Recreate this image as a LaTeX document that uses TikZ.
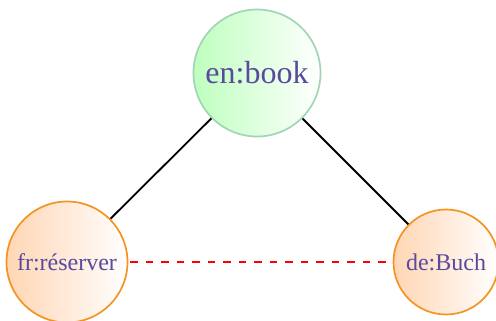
\documentclass[tikz,border=0pt]{standalone}
\usepackage{fontspec}
\setmainfont{Liberation Serif}
\usetikzlibrary{positioning}

\definecolor{wordtext}{RGB}{90,74,158}
\definecolor{engreen}{RGB}{190,255,190}
\definecolor{enborder}{RGB}{160,214,180}
\definecolor{peach}{RGB}{255,214,180}
\definecolor{orangeborder}{RGB}{243,148,34}

\begin{document}
\begin{tikzpicture}[x=1pt,y=1pt,on grid,
    word/.style={circle,inner sep=0pt,line width=1.7pt,text=wordtext,
      font=\fontsize{24}{24}\selectfont},
    srcword/.style={word,draw=enborder,left color=engreen,right color=white,
      minimum size=127pt,font=\fontsize{32}{32}\selectfont},
    tgtword/.style={word,draw=orangeborder,left color=peach,right color=white}]
  \useasboundingbox (0,0) rectangle (496,-321);
  \node[srcword] (en) at (257,-73) {en:book};
  \node[tgtword,minimum size=121pt] (fr) [below left=189pt and 190pt of en] {fr:réserver};
  \node[tgtword,minimum size=105pt] (de) [below right=189pt and 189pt of en] {de:Buch};

  \draw[line width=1.8pt] (en) -- (fr);
  \draw[line width=1.8pt] (en) -- (de);
  \draw[red,line width=1.9pt,dash pattern=on 7.5pt off 8pt,dash phase=13.5pt] (fr) -- (de);
\end{tikzpicture}
\end{document}
